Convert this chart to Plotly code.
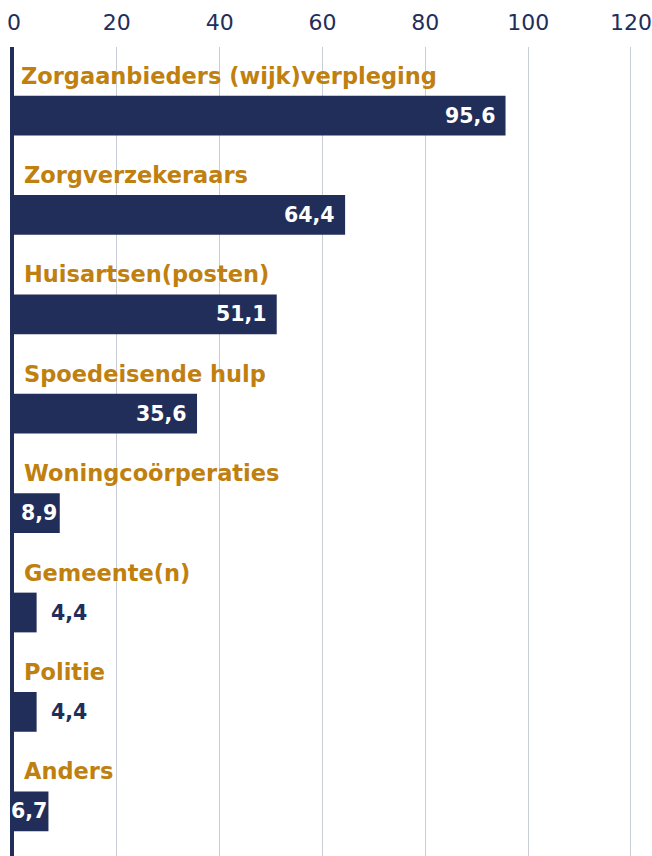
import plotly.graph_objects as go

categories = ["Zorgaanbieders (wijk)verpleging", "Zorgverzekeraars", "Huisartsen(posten)",
              "Spoedeisende hulp", "Woningcoörperaties", "Gemeente(n)", "Politie", "Anders"]
values = [95.6, 64.4, 51.1, 35.6, 8.9, 4.4, 4.4, 6.7]
value_labels = ["95,6", "64,4", "51,1", "35,6", "8,9", "4,4", "4,4", "6,7"]
label_inside = [True, True, True, True, True, False, False, True]
x_ticks = [0, 20, 40, 60, 80, 100, 120]

NAVY = "#222E5A"
GOLD = "#C0800F"
FONT = "DejaVu Sans"

pos = list(range(len(categories)))

fig = go.Figure()
fig.add_trace(go.Bar(
    x=values, y=pos, orientation="h", width=0.4,
    marker=dict(color=NAVY, line=dict(width=0)),
    hoverinfo="skip",
))

annotations = []
for i, (cat, v, lab, ins) in enumerate(zip(categories, values, value_labels, label_inside)):
    annotations.append(dict(
        x=0, y=i, xref="x", yref="y", text=cat, showarrow=False,
        xanchor="left", yanchor="middle", xshift=5 if i == 0 else 8, yshift=40,
        font=dict(family=FONT, size=22.5, color=GOLD, weight=600),
    ))
    if ins:
        shift = -8 if v > 20 else (-1 if v > 8 else 1)
        annotations.append(dict(
            x=v, y=i, xref="x", yref="y", text=lab, showarrow=False,
            xanchor="right", yanchor="middle", xshift=shift,
            font=dict(family=FONT, size=20.5, color="white", weight=700),
        ))
    else:
        annotations.append(dict(
            x=v, y=i, xref="x", yref="y", text=lab, showarrow=False,
            xanchor="left", yanchor="middle", xshift=12,
            font=dict(family=FONT, size=20.5, color=NAVY, weight=700),
        ))

fig.update_layout(
    width=652, height=856,
    margin=dict(l=14, r=16, t=47, b=0),
    paper_bgcolor="white", plot_bgcolor="white",
    showlegend=False,
    annotations=annotations,
    xaxis=dict(
        side="top", range=[0, 120.2], tickvals=x_ticks, ticktext=[str(t) for t in x_ticks],
        showgrid=True, gridcolor="#C9CED6", gridwidth=1, zeroline=False,
        ticks="", ticklabelstandoff=12, ticklabeloverflow="allow",
        tickfont=dict(family=FONT, size=22, color=NAVY),
        fixedrange=True,
    ),
    yaxis=dict(
        range=[7.45, -0.69], showticklabels=False, ticks="", showgrid=False, zeroline=False,
        showline=True, linecolor=NAVY, linewidth=4, fixedrange=True,
    ),
)

fig.write_html("out.html", config={"displayModeBar": False},
               post_script="document.body.style.margin='0';document.body.style.overflow='hidden';")
